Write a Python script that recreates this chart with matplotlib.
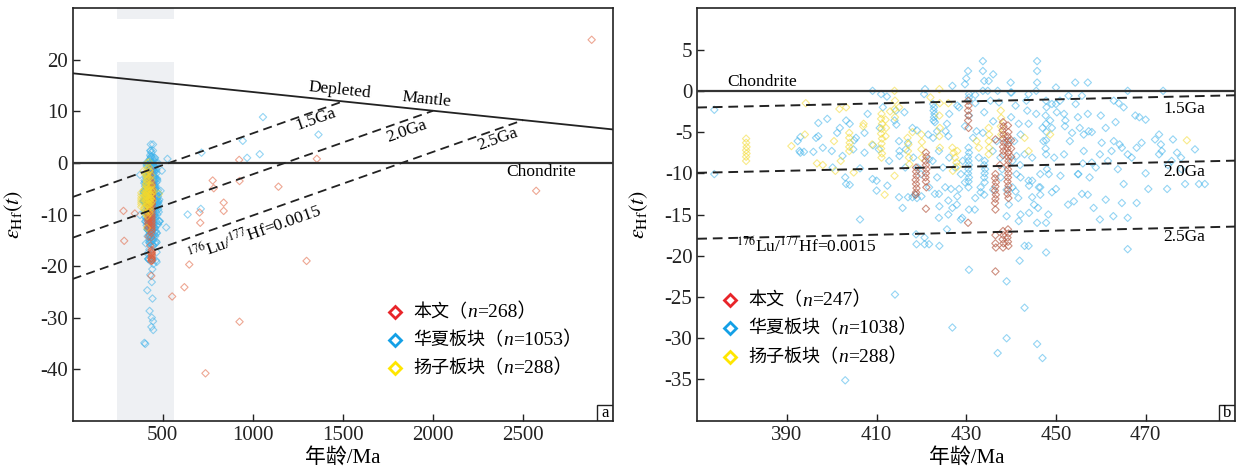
import numpy as np
import matplotlib
matplotlib.use('Agg')
import matplotlib.pyplot as plt
from matplotlib.lines import Line2D
from matplotlib.patches import Rectangle
from matplotlib.offsetbox import AnchoredOffsetbox, HPacker, TextArea, DrawingArea

plt.rcParams['font.family'] = ['Liberation Serif', 'Noto Sans CJK SC']
plt.rcParams['mathtext.fontset'] = 'stix'
plt.rcParams['axes.unicode_minus'] = False

# --- data: (age Ma, eHf(t)) ---
# Silurian zircons, shown in both panels
blue_pts = [
    (373.8, -2.3), (373.8, -10.1), (393.0, -5.6), (393.8, -7.4), (395.9, -7.4), (393.0, -7.5), (397.0, -3.9),
    (399.0, -3.4), (397.0, -5.5), (401.2, -5.1), (401.8, -4.5), (403.2, -3.6), (404.0, -4.0), (404.8, -7.1),
    (403.0, -10.5), (404.0, -11.4), (406.3, -9.4), (407.3, -5.1), (409.2, -6.6), (410.0, -10.9), (410.0, -12.1),
    (411.4, -2.0), (412.3, -0.7), (412.4, -11.5), (414.0, -3.6), (414.4, -4.1), (415.1, -7.3), (415.1, -7.9),
    (416.2, -2.6), (417.0, -12.9), (418.0, -12.9), (418.6, -12.6), (419.2, -9.3), (406.3, -15.6), (414.1, -24.7),
    (403.0, -35.1), (410.7, -4.5), (407.3, -7.5), (410.5, -7.1), (420.8, 0.2), (420.6, -0.4), (421.5, -5.3),
    (422.6, -5.7), (422.6, -1.6), (422.8, -2.0), (422.7, -2.4), (422.9, -2.8), (422.8, -3.2), (422.7, -3.6),
    (423.0, -3.8), (423.5, -4.9), (424.0, -14.0), (424.0, -18.8), (420.7, -17.8), (420.7, -18.6), (425.7, -4.0),
    (426.2, -2.8), (426.2, -8.1), (426.6, -11.9), (426.9, 0.6), (426.9, -28.7), (426.0, -15.0), (425.7, -16.8),
    (427.9, -13.8), (428.4, -11.9), (428.8, -15.6), (429.7, -4.3), (430.4, 2.4), (429.7, 0.8), (430.6, -0.4),
    (430.6, -1.2), (430.6, -3.0), (430.5, -6.9), (430.6, -7.5), (430.4, -8.0), (430.5, -8.5), (430.6, -9.0),
    (430.5, -9.5), (430.4, -10.0), (430.6, -10.5), (430.5, -11.0), (430.5, -11.7), (430.6, -14.4), (430.6, -21.7),
    (431.9, -14.4), (432.8, -8.1), (433.2, -11.7), (433.2, -12.3), (433.7, 3.6), (433.7, 2.4), (434.0, 1.2),
    (433.7, 0.0), (434.0, -2.6), (433.7, -5.1), (434.1, -8.5), (434.0, -9.0), (434.2, -9.5), (434.1, -10.0),
    (434.0, -10.5), (434.1, -11.1), (434.0, -12.6), (435.0, 1.2), (434.8, 0.0), (435.4, -1.2), (435.9, -7.3),
    (437.0, 0.0), (437.0, -31.8), (439.0, -23.1), (439.0, -30.0), (439.0, -15.2), (437.6, -8.1), (440.1, -0.2),
    (440.7, -6.1), (441.2, -7.9), (441.6, -13.0), (441.9, -20.6), (443.0, -26.3), (443.0, -18.8), (443.9, -18.8),
    (443.4, -1.2), (443.9, -4.0), (444.7, -8.1), (444.7, -10.9), (445.8, 3.6), (445.8, 2.4), (445.8, 1.0),
    (445.6, 0.0), (445.6, -2.8), (446.0, -14.2), (445.8, -30.7), (447.0, -32.4), (446.5, -10.1), (446.5, -12.6),
    (447.0, -4.5), (447.2, -6.1), (447.8, -1.2), (447.9, -2.0), (447.7, -3.0), (447.8, -4.0), (447.9, -5.0),
    (447.8, -6.0), (447.7, -7.0), (447.8, -7.7), (447.8, -19.6), (447.8, -16.0), (448.3, -15.0), (448.7, -3.6),
    (449.1, -12.3), (449.6, -8.1), (450.0, -11.9), (450.9, -1.2), (451.8, -2.8), (451.8, -7.7), (452.7, -13.8),
    (453.1, -6.1), (454.4, -1.6), (454.9, -3.2), (454.9, -10.1), (455.3, -4.5), (455.8, -0.6), (456.2, -5.3),
    (456.2, -7.3), (457.1, 1.0), (457.1, -2.8), (457.1, -12.6), (457.5, -10.5), (458.4, -14.2), (458.9, -9.3),
    (459.8, -7.7), (459.8, -15.6), (461.1, -4.5), (461.1, -13.2), (462.9, -1.2), (463.3, -3.8), (463.8, -9.5),
    (464.2, -6.5), (465.1, -11.3), (465.1, -2.0), (466.0, 0.0), (466.0, -7.7), (466.0, -15.4), (466.0, -19.2),
    (467.7, -3.0), (468.6, -3.2), (468.0, -6.9), (468.0, -13.6), (473.0, -5.3), (473.0, -7.7), (473.9, 0.0),
    (474.8, -11.9), (476.1, -5.9), (477.0, -7.5), (477.9, -8.1), (481.9, -11.3), (483.2, -11.3), (481.0, -7.1),
    (473.4, -6.5), (462.9, -6.1), (461.6, -8.5), (454.0, -13.4), (450.0, 0.4), (450.0, -1.6), (439.9, 1.0),
    (416.4, -9.3), (418.2, -8.1), (419.9, -10.1), (421.7, -8.3), (423.5, -10.5), (424.8, -9.3), (425.3, -11.7),
    (427.5, -9.3), (428.8, -10.1), (429.7, -11.1), (429.2, -8.5), (431.5, -5.7), (432.3, -4.9), (436.8, -6.1),
    (437.7, -10.5), (441.2, -10.1), (442.1, -5.3), (443.0, -7.7), (443.9, -10.9), (442.1, -15.0), (440.3, -11.7),
    (445.1, -13.8), (446.5, -11.7), (438.0, -9.5), (439.0, -12.0), (441.0, -12.2), (444.0, -11.5), (442.0, -9.0),
    (436.0, -12.0), (432.0, -13.0), (428.0, -12.8), (426.0, -13.3), (423.0, -12.5), (420.0, -12.8), (419.0, -13.0),
    (452.0, -4.3), (458.0, -5.0), (460.0, -3.0), (464.0, -1.5), (470.0, -3.5), (475.0, -9.0), (478.0, -9.5),
    (470.0, -10.0), (448.0, -9.5), (451.0, -10.3), (456.0, -8.8), (440.0, -3.2), (441.0, -1.8), (436.0, -3.7),
    (432.0, -1.5), (428.0, -1.8), (426.0, -5.5), (419.0, -4.8), (417.0, -6.3), (408.0, -2.8), (405.0, -6.0),
    (400.0, -7.3), (398.0, -6.9),
    (454.3, 1.0), (452.8, -0.6), (449.1, -1.6), (450.2, -2.6), (452.1, -3.6), (449.1, -4.5), (453.6, -5.1),
    (457.3, -4.9), (460.2, -6.3), (462.4, -7.3), (464.7, -6.9), (466.9, -8.1), (469.1, -6.3), (472.1, -5.9),
    (473.6, -7.3), (475.8, -8.5), (478.8, -11.3), (470.6, -11.9), (464.7, -13.6), (462.8, -15.2), (455.8, -12.5),
    (455.0, -10.1), (458.0, -8.7), (448.4, -10.1), (446.2, -11.7), (444.7, -12.9), (444.0, -14.8), (445.8, -16.0),
    (441.7, -15.8), (439.5, -13.8), (442.1, -10.5), (440.3, -8.5), (439.1, -6.1), (441.7, -4.0), (443.6, -2.4),
    (443.9, -0.4), (439.9, -0.2), (437.3, -1.4), (430.6, -0.8), (428.4, -2.0), (425.4, -4.9), (423.9, -7.3),
    (422.5, -8.5), (421.7, -11.7), (423.9, -12.5), (426.9, -14.2), (429.1, -15.4), (423.9, -15.4), (418.8, -17.4),
    (418.9, -18.6), (421.7, -18.6), (415.0, -12.9), (415.8, -14.2), (412.8, -8.5), (409.1, -10.7), (405.4, -5.7),
    (402.4, -7.9), (400.2, -9.3), (396.5, -5.7), (392.8, -7.3), (392.4, -6.1), (403.2, -11.3), (409.1, 0.0),
    (411.0, -0.4), (414.3, -2.4), (418.0, -4.5), (416.5, -7.1), (415.0, -6.1), (430.0, 1.5), (436.0, 2.0),
    (432.0, -0.5),
]

yellow_pts = [
    (380.9, -5.8), (380.9, -6.3), (381.0, -6.8), (380.9, -7.2), (381.0, -7.6), (380.9, -8.0), (380.9, -8.5),
    (391.0, -6.7), (394.0, -5.3), (394.2, -1.5), (396.7, -8.8), (400.5, -6.1), (400.8, -9.7), (401.7, -2.2),
    (403.2, -2.0), (403.9, -5.1), (403.9, -5.7), (404.0, -6.3), (403.9, -6.8), (403.9, -7.3), (404.9, -9.9),
    (407.0, -4.3), (407.1, -4.0), (411.1, -2.8), (411.0, -3.4), (411.2, -4.0), (411.1, -4.6), (411.0, -5.2),
    (411.2, -5.8), (411.1, -6.4), (411.0, -7.0), (411.2, -7.6), (411.1, -8.1), (412.0, -3.5), (412.1, -4.5),
    (412.0, -5.5), (411.8, -12.6), (414.0, 0.0), (414.1, -1.2), (414.0, -2.2), (414.1, -3.2), (414.0, -10.3),
    (416.9, -5.7), (417.1, -6.5), (417.0, -7.3), (417.2, -8.1), (417.3, -8.9), (420.0, -5.3), (420.1, -6.2),
    (420.0, -7.1), (420.1, -8.1), (422.0, -0.8), (424.0, 0.2), (424.1, -1.5), (424.0, -3.0), (424.1, -4.5),
    (424.0, -5.5), (424.1, -6.9), (426.9, -6.9), (427.2, -7.5), (427.5, -8.1), (427.8, -8.7), (428.0, -9.2),
    (427.0, -9.7), (428.0, -7.3), (432.3, -6.1), (432.8, -6.9), (435.0, -4.5), (435.1, -5.3), (435.0, -6.1),
    (435.1, -6.9), (435.0, -7.7), (437.7, -2.4), (437.8, -3.3), (437.7, -4.3), (437.8, -5.3), (443.0, -5.7),
    (443.9, -7.3), (448.7, -5.3), (479.2, -6.0), (398.0, -9.0), (402.0, -8.5), (409.0, -6.5), (415.0, -2.0),
    (413.0, -2.5), (418.0, -5.0), (426.0, -1.5),
]

red_pts = [
    (418.8, -9.3), (418.8, -9.8), (418.9, -10.3), (418.7, -10.8), (418.8, -11.3), (418.9, -11.8), (418.8, -12.3),
    (418.7, -12.6), (421.0, -7.5), (421.1, -8.0), (420.9, -8.5), (421.0, -9.0), (421.1, -9.5), (421.0, -10.0),
    (420.9, -10.5), (421.0, -11.0), (421.1, -11.7), (421.0, -14.3), (430.4, -1.2), (430.5, -1.8), (430.4, -2.4),
    (430.5, -3.0), (430.4, -3.6), (430.5, -4.5), (430.4, -16.0), (436.5, -5.9), (436.5, -10.1), (436.4, -10.6),
    (436.6, -11.1), (436.5, -11.6), (436.4, -12.1), (436.6, -12.6), (436.5, -13.1), (436.4, -13.6), (436.5, -14.4),
    (436.5, -17.5), (436.5, -18.5), (436.6, -19.0), (436.5, -21.9), (438.2, -3.8), (438.3, -4.3), (438.1, -4.8),
    (438.3, -5.3), (438.2, -5.8), (438.4, -6.3), (438.2, -6.8), (438.3, -7.3), (438.2, -7.8), (438.2, -17.0),
    (438.3, -17.5), (438.1, -18.0), (438.3, -18.5), (438.2, -19.0), (439.3, -4.2), (439.4, -5.0), (439.2, -5.5),
    (439.4, -6.0), (439.3, -6.5), (439.2, -7.0), (439.4, -7.5), (439.3, -8.0), (439.4, -8.5), (439.2, -9.0),
    (439.3, -9.5), (439.4, -10.0), (439.3, -10.5), (439.2, -11.0), (439.4, -11.5), (439.3, -12.0), (439.2, -12.5),
    (439.4, -13.0), (439.3, -16.8), (439.4, -17.3), (439.2, -17.8), (439.3, -18.3), (439.4, -18.8), (440.0, -6.0),
    (440.0, -7.0), (440.0, -8.0), (437.5, -9.0),
]

# older / younger grains only in panel a
blue_extra_a = [
    (1056, 8.9), (1364, 5.5), (944, 4.3), (968, 1.0), (1038, 1.7), (715, 2.0), (526, 0.8), (711, -8.9),
    (638, -10.0), (519, -12.5), (495, -1.5), (488, -5.4), (462, -18.9), (466, -17.3), (398, -34.9),
]
red_extra_a = [
    (2880, 23.9), (2572, -5.4), (1355, 0.8), (924, 0.6), (926, -3.5), (777, -3.4), (783, -4.9), (1142, -4.6),
    (838, -7.7), (838, -9.3), (704, -9.6), (708, -11.6), (282, -9.3), (286, -15.1), (345, -9.8), (647, -19.7),
    (1298, -19.0), (620, -24.1), (552, -25.9), (926, -30.8), (737, -40.8),
]

legend_names = ['本文', '华夏板块', '扬子板块']
legend_n_a = [268, 1053, 288]
legend_n_b = [247, 1038, 288]

# depleted mantle and crustal evolution lines (176Lu/177Hf = 0.0015)
dm_age = [0, 3000]
dm_eps = [17.4, 6.5]
tdm_ages = [1500, 2000, 2500]
tdm_labels = ['1.5Ga', '2.0Ga', '2.5Ga']
crust_eps0 = [-6.6, -14.5, -22.5]
band_age = (245, 565)

C_BLUE = '#3db2ea'
C_YEL = '#f3d92c'
C_RED = '#e0603c'
LEG_COLS = ['#e8252a', '#14a0e6', '#ffe600']


def dm(t):
    return np.interp(t, dm_age, dm_eps)


def crust_line(i, t):
    T = tdm_ages[i]
    e0 = crust_eps0[i]
    return e0 + (dm(T) - e0) * np.asarray(t) / T


def scatter_set(ax, pts, col, alpha):
    a = np.array(pts)
    ax.scatter(a[:, 0], a[:, 1], marker='D', s=14, facecolors='none',
               edgecolors=col, linewidths=0.8, alpha=alpha, zorder=2)


def style_axes(ax, tag):
    for sp in ax.spines.values():
        sp.set_linewidth(1.2)
        sp.set_color('#222222')
    ax.tick_params(direction='in', length=5, width=1, labelsize=15, colors='#222222')
    ax.set_xlabel('年龄/Ma', fontsize=15)
    ax.set_ylabel(r'$\varepsilon_{\mathrm{Hf}}(t)$', fontsize=16)
    ax.yaxis.set_label_coords(-0.088, 0.5)
    ax.xaxis.set_label_coords(0.5, -0.066)
    ax.add_patch(Rectangle((1 - 0.0296, 0), 0.0296, 0.039, transform=ax.transAxes,
                           fill=False, edgecolor='#222222', lw=1, zorder=5))
    ax.text(1 - 0.0148, 0.0195, tag, transform=ax.transAxes, ha='center', va='center',
            fontsize=12, zorder=5)


def legend_rows(ax, nums, x0, ys):
    for name, n, col, y in zip(legend_names, nums, LEG_COLS, ys):
        da = DrawingArea(12, 12, 0, 0)
        da.add_artist(Line2D([6], [6], marker='D', ms=6, mfc='none', mec=col, mew=2))
        txt = HPacker(children=[
            TextArea(name + '（', textprops=dict(size=13)),
            TextArea('n', textprops=dict(size=14, style='italic', family='Liberation Serif')),
            TextArea('=%d）' % n, textprops=dict(size=14)),
        ], sep=0, pad=0, align='baseline')
        row = HPacker(children=[da, txt], sep=7, pad=0, align='center')
        box = AnchoredOffsetbox(loc='center left', child=row, bbox_to_anchor=(x0, y),
                                bbox_transform=ax.transAxes, frameon=False, pad=0, borderpad=0)
        ax.add_artist(box)


def slope_angle(ax, x, y):
    p = ax.transData.transform(np.column_stack([x, y]))
    return np.degrees(np.arctan2(p[1, 1] - p[0, 1], p[1, 0] - p[0, 0]))


fig = plt.figure(figsize=(12.42, 4.74), dpi=100)
ax_a = fig.add_axes([0.0585, 0.1124, 0.4353, 0.870])
ax_b = fig.add_axes([0.5614, 0.1124, 0.4332, 0.870])

# ---------------- panel a ----------------
ax = ax_a
ax.set_xlim(0, 3000)
ax.set_ylim(-50, 30)
ax.set_xticks([500, 1000, 1500, 2000, 2500])
ax.set_yticks([-40, -30, -20, -10, 0, 10, 20])
ax.axvspan(band_age[0], band_age[1], ymin=0, ymax=0.869, color='#eef0f3', lw=0, zorder=0)
ax.axvspan(band_age[0], band_age[1], ymin=0.975, ymax=1, color='#eef0f3', lw=0, zorder=0)

scatter_set(ax, blue_pts + blue_extra_a, C_BLUE, 0.55)
scatter_set(ax, red_pts + red_extra_a, C_RED, 0.55)
scatter_set(ax, yellow_pts, C_YEL, 0.5)

ax.plot(dm_age, dm_eps, color='#222222', lw=1.3, zorder=3)
ax.axhline(0, color='#333333', lw=1.6, zorder=3)
for i in range(3):
    tt = np.array([0, tdm_ages[i]])
    ax.plot(tt, crust_line(i, tt), color='#222222', lw=1.3, ls=(0, (5, 3)), zorder=3)

rot_dm = slope_angle(ax, dm_age, dm_eps)
tt = np.array([0, 2500])
rot_c = slope_angle(ax, tt, crust_line(2, tt))
ax.text(1480, 14.1, 'Depleted', rotation=rot_dm, ha='center', va='center', fontsize=12.5)
ax.text(1965, 12.3, 'Mantle', rotation=rot_dm, ha='center', va='center', fontsize=12.5)
for lab, xx, yy in zip(tdm_labels, [1350, 1853, 2356], [8.5, 6.2, 4.6]):
    ax.text(xx, yy, lab, rotation=rot_c, ha='center', va='center', fontsize=12.5)
ax.text(2598, -1.7, 'Chondrite', ha='center', va='center', fontsize=12.5)
ax.text(1010, -13.6, r'$^{176}$Lu/$^{177}$Hf=0.0015', rotation=rot_c,
        ha='center', va='center', fontsize=12.5)
style_axes(ax, 'a')
legend_rows(ax, legend_n_a, 0.581, [0.2636, 0.1957, 0.1278])

# ---------------- panel b ----------------
ax = ax_b
ax.set_xlim(370, 490)
ax.set_ylim(-40, 10)
ax.set_xticks([390, 410, 430, 450, 470])
ax.set_yticks([-35, -30, -25, -20, -15, -10, -5, 0, 5])

scatter_set(ax, blue_pts, C_BLUE, 0.55)
scatter_set(ax, yellow_pts, C_YEL, 0.55)
scatter_set(ax, red_pts, '#b9604a', 0.7)

ax.axhline(0, color='#333333', lw=1.6, zorder=3)
tt = np.array([370, 490])
for i in range(3):
    ax.plot(tt, crust_line(i, tt), color='#222222', lw=1.4, ls=(0, (5, 3)), zorder=3)
ax.text(384.4, 1.1, 'Chondrite', ha='center', va='center', fontsize=12.5)
for lab, yy in zip(tdm_labels, [-2.2, -9.8, -17.7]):
    ax.text(478.7, yy, lab, ha='center', va='center', fontsize=12.5)
ax.text(394.3, -18.8, r'$^{176}$Lu/$^{177}$Hf=0.0015', ha='center', va='center', fontsize=12.5)
style_axes(ax, 'b')
legend_rows(ax, legend_n_b, 0.046, [0.292, 0.224, 0.154])

fig.savefig('out.png', dpi=100)
